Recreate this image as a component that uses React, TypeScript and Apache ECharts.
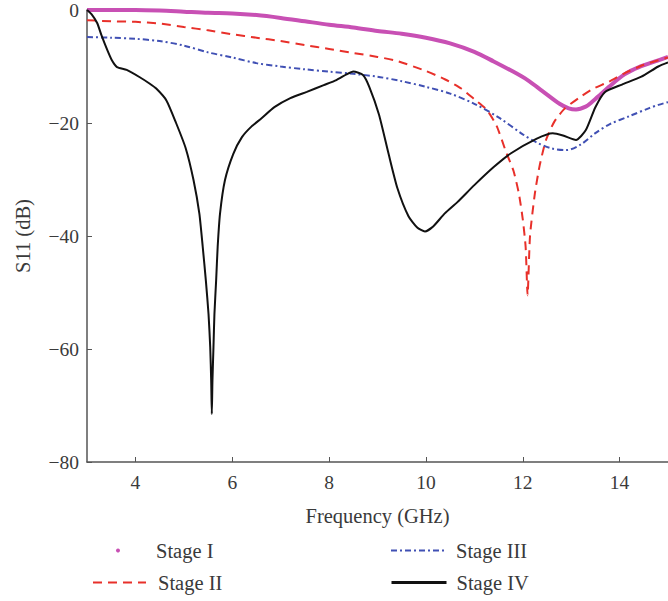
import React, { useEffect, useRef } from "react";
import * as echarts from "echarts";

const xTicks = [4, 6, 8, 10, 12, 14];

const stage1: [number, number][] = [
  [3, 0], [3.5, 0], [4, 0], [4.5, -0.1], [5, -0.3], [5.5, -0.5], [6, -0.6], [6.5, -0.9],
  [7, -1.4], [7.5, -2.0], [8, -2.6], [8.5, -3.1], [9, -3.7], [9.5, -4.2], [10, -4.9],
  [10.5, -5.9], [11, -7.4], [11.4, -9.1], [11.8, -10.9], [12.1, -12.4], [12.4, -14.3],
  [12.76, -16.6], [12.95, -17.4], [13.1, -17.6], [13.3, -17.1], [13.44, -16.2], [13.6, -15.0],
  [13.78, -13.6], [14.1, -11.4], [14.4, -10.1], [14.8, -8.9], [15, -8.3],
];

const stage2: [number, number][] = [
  [3, -1.8], [3.5, -2.0], [4, -2.1], [4.5, -2.4], [5, -3.0], [5.5, -3.6], [6, -4.3],
  [6.5, -4.9], [7, -5.5], [7.5, -6.2], [8, -6.9], [8.5, -7.6], [9, -8.3], [9.4, -9.0],
  [10, -10.8], [10.4, -12.3], [10.73, -13.9], [11, -15.8], [11.26, -17.7], [11.46, -20.5],
  [11.65, -25], [11.81, -28.5], [11.92, -32.5], [12.0, -37], [12.06, -42], [12.1, -50.5],
  [12.15, -40], [12.25, -32.5], [12.35, -27.5], [12.48, -23], [12.65, -19.8], [12.86, -17.5],
  [13.17, -15.5], [13.44, -14], [13.78, -12.7], [14.1, -11.2], [14.5, -9.7], [14.8, -8.9],
  [15, -8.4],
];

const stage3: [number, number][] = [
  [3, -4.8], [3.5, -4.9], [4, -5.1], [4.5, -5.5], [5, -6.3], [5.5, -7.5], [6, -8.4],
  [6.5, -9.4], [7, -10], [7.5, -10.5], [8, -10.9], [8.5, -11.3], [9, -11.8], [9.5, -12.6],
  [10, -13.6], [10.5, -14.8], [11, -16.6], [11.5, -19], [12, -22], [12.3, -23.5],
  [12.6, -24.5], [12.9, -24.8], [13.2, -23.8], [13.5, -21.8], [13.8, -20.2], [14.2, -18.8],
  [14.6, -17.4], [14.8, -16.8], [15, -16.3],
];

const stage4: [number, number][] = [
  [3, 0], [3.1, -0.8], [3.21, -2.3], [3.3, -4.5], [3.42, -7.1], [3.52, -9], [3.62, -10.1],
  [3.82, -10.6], [4.09, -11.9], [4.29, -13], [4.43, -13.9], [4.64, -16], [4.84, -20],
  [5.04, -24.5], [5.2, -30.1], [5.32, -36.0], [5.39, -41.9], [5.455, -47.9], [5.51, -53.8],
  [5.545, -59.7], [5.565, -65.6], [5.578, -71.5], [5.591, -65.6], [5.612, -59.7],
  [5.632, -53.8], [5.667, -47.9], [5.699, -41.9], [5.748, -36.0], [5.85, -30.1],
  [6.02, -25.5], [6.2, -22.5], [6.4, -20.6], [6.6, -19.2], [6.87, -17.2], [7.2, -15.6],
  [7.54, -14.5], [7.89, -13.3], [8.15, -12.4], [8.36, -11.4], [8.5, -10.9], [8.7, -11.5],
  [8.83, -13.6], [9.03, -18.5], [9.23, -25.5], [9.41, -31.5], [9.64, -36.5], [9.82, -38.5],
  [9.98, -39.2], [10.15, -38.3], [10.39, -36], [10.65, -34], [11, -31], [11.4, -27.8],
  [11.75, -25.4], [12.28, -22.8], [12.62, -21.8], [12.83, -22.2], [13.1, -23], [13.3, -21.3],
  [13.5, -17.2], [13.7, -14.5], [14.05, -13.2], [14.45, -11.8], [14.8, -10], [15, -9.3],
];

const FONT = "Liberation Serif";
const TXT = "#3a3a3a";

export default function App() {
  const ref = useRef<HTMLDivElement>(null);
  useEffect(() => {
    if (!ref.current) return;
    const chart = echarts.init(ref.current, undefined, { renderer: "svg" });
    const legendText = (pad: number) => ({
      color: TXT,
      fontFamily: FONT,
      fontSize: 20.5,
      padding: [0, 0, 0, pad],
    });
    const hideSym = { opacity: 0 };
    chart.setOption({
      animation: false,
      backgroundColor: "#fff",
      grid: { left: 87, right: -9, top: 10, bottom: 139, containLabel: false },
      xAxis: {
        type: "value",
        min: 3,
        max: 15,
        name: "Frequency (GHz)",
        nameLocation: "middle",
        nameGap: 43,
        nameTextStyle: { color: TXT, fontFamily: FONT, fontSize: 20.5 },
        axisLine: { show: true, onZero: false, lineStyle: { color: "#555", width: 1.5 } },
        axisTick: { show: true, inside: true, length: 5, customValues: xTicks, lineStyle: { color: "#555" } },
        axisLabel: { customValues: xTicks, color: TXT, fontFamily: FONT, fontSize: 19.5, margin: 10 },
        splitLine: { show: false },
      },
      yAxis: {
        type: "value",
        min: -80,
        max: 0,
        interval: 20,
        name: "S11 (dB)",
        nameLocation: "middle",
        nameGap: 54,
        nameTextStyle: { color: TXT, fontFamily: FONT, fontSize: 20.5 },
        axisLine: { show: true, onZero: false, lineStyle: { color: "#555", width: 1.5 } },
        axisTick: { show: true, inside: true, length: 5, lineStyle: { color: "#555" } },
        axisLabel: {
          color: TXT,
          fontFamily: FONT,
          fontSize: 19.5,
          margin: 8,
          formatter: (v: number) => (v < 0 ? "\u2212" + Math.abs(v) : String(v)),
        },
        splitLine: { show: false },
      },
      legend: [
        {
          data: ["Stage I"], left: 111, top: 535, icon: "circle", itemWidth: 4, itemHeight: 4,
          textStyle: legendText(31),
        },
        {
          data: ["Stage II"], left: 87, top: 567, itemWidth: 53, itemHeight: 14, itemStyle: hideSym,
          textStyle: legendText(7),
        },
        {
          data: ["Stage III"], left: 385, top: 535, itemWidth: 55, itemHeight: 14, itemStyle: hideSym,
          textStyle: legendText(5),
        },
        {
          data: ["Stage IV"], left: 385, top: 567, itemWidth: 55, itemHeight: 14, itemStyle: hideSym,
          lineStyle: { width: 3 },
          textStyle: legendText(5),
        },
      ],
      series: [
        {
          name: "Stage I", type: "line", data: stage1, showSymbol: false, symbol: "none", smooth: 0.3,
          color: "#C850B4", lineStyle: { color: "#C850B4", width: 4 }, z: 2,
        },
        {
          name: "Stage II", type: "line", data: stage2, showSymbol: false, symbol: "none", smooth: 0.2,
          color: "#E8302A", lineStyle: { color: "#E8302A", width: 2, type: [9, 6] }, z: 3,
        },
        {
          name: "Stage III", type: "line", data: stage3, showSymbol: false, symbol: "none", smooth: 0.3,
          color: "#4050B4", lineStyle: { color: "#4050B4", width: 2, type: [6, 3, 2, 3] }, z: 3,
        },
        {
          name: "Stage IV", type: "line", data: stage4, showSymbol: false, symbol: "none", smooth: 0.2,
          color: "#111111", lineStyle: { color: "#111111", width: 2 }, z: 4,
        },
      ],
    });
    return () => chart.dispose();
  }, []);
  return (
    <div
      ref={ref}
      style={{ position: "fixed", left: 0, top: 0, width: 668, height: 601, background: "#fff" }}
    />
  );
}
